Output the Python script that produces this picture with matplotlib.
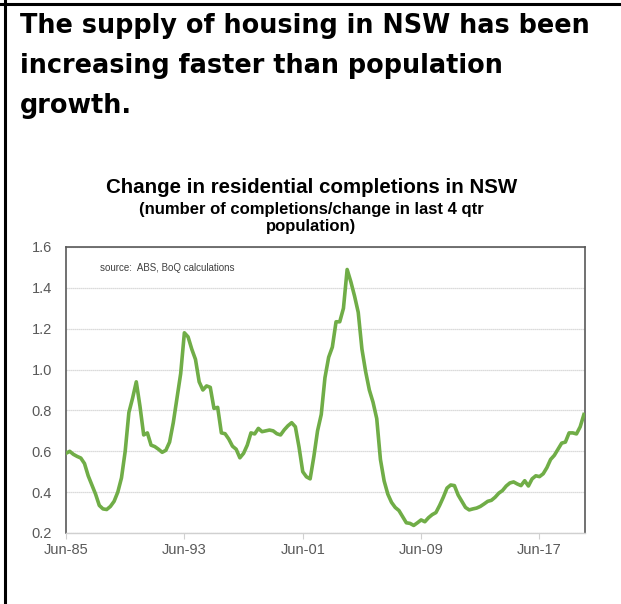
import matplotlib.pyplot as plt
import numpy as np

# quarterly ratio, Jun-85 .. Jun-20
ratio = [
    0.59, 0.60, 0.585, 0.575, 0.567, 0.54, 0.48, 0.435, 0.39, 0.335,
    0.318, 0.315, 0.33, 0.355, 0.40, 0.47, 0.60, 0.79, 0.86, 0.94,
    0.82, 0.68, 0.69, 0.63, 0.623, 0.61, 0.595, 0.605, 0.645, 0.74,
    0.86, 0.98, 1.18, 1.16, 1.10, 1.05, 0.94, 0.90, 0.92, 0.913,
    0.81, 0.815, 0.69, 0.686, 0.66, 0.625, 0.61, 0.568, 0.59, 0.63,
    0.69, 0.685, 0.712, 0.696, 0.70, 0.704, 0.70, 0.686, 0.68, 0.705,
    0.725, 0.74, 0.72, 0.62, 0.50, 0.475, 0.465, 0.574, 0.70, 0.78,
    0.96, 1.06, 1.11, 1.234, 1.234, 1.30, 1.49, 1.43, 1.36, 1.28,
    1.10, 0.99, 0.90, 0.84, 0.76, 0.56, 0.455, 0.39, 0.35, 0.325,
    0.31, 0.28, 0.25, 0.247, 0.237, 0.25, 0.264, 0.255, 0.275, 0.29,
    0.30, 0.335, 0.375, 0.42, 0.435, 0.432, 0.386, 0.355, 0.325, 0.313,
    0.318, 0.322, 0.33, 0.342, 0.355, 0.36, 0.375, 0.395, 0.408, 0.43,
    0.445, 0.45, 0.44, 0.432, 0.456, 0.43, 0.465, 0.48, 0.476, 0.49,
    0.52, 0.56, 0.58, 0.61, 0.64, 0.645, 0.69, 0.69, 0.685, 0.72,
    0.78,
]
tick_quarters = [0, 32, 64, 96, 128]
tick_labels = ["Jun-85", "Jun-93", "Jun-01", "Jun-09", "Jun-17"]
y_ticks = [0.2, 0.4, 0.6, 0.8, 1.0, 1.2, 1.4, 1.6]

headline = ["The supply of housing in NSW has been",
            "increasing faster than population",
            "growth."]
chart_title = "Change in residential completions in NSW"
chart_sub = ["(number of completions/change in last 4 qtr", "population)"]
source = "source:  ABS, BoQ calculations"

GREY = "#595959"
W, H = 621, 604

fig = plt.figure(figsize=(W / 100, H / 100), dpi=100)

# outer frame lines (top and left)
fig.add_artist(plt.Line2D([0, 1], [1 - 4 / H, 1 - 4 / H], color="black", lw=2.2))
fig.add_artist(plt.Line2D([5 / W, 5 / W], [0, 1], color="black", lw=2.2))

for i, line in enumerate(headline):
    fig.text(20 / W, 1 - (33 + 40 * i) / H, line, ha="left", va="baseline",
             fontsize=18.4, fontweight="bold", family="DejaVu Sans")

fig.text(312 / W, 1 - 193 / H, chart_title, ha="center", va="baseline",
         fontsize=14.8, fontweight="bold", family="Liberation Sans")
for i, line in enumerate(chart_sub):
    fig.text(311 / W, 1 - (214 + 17 * i) / H, line, ha="center", va="baseline",
             fontsize=12, fontweight="bold", family="Liberation Sans")

ax = fig.add_axes([66 / W, 1 - 533 / H, (585 - 66) / W, (533 - 247) / H])
q = np.arange(len(ratio))
ax.plot(q, ratio, color="#70ad47", lw=2.6, solid_joinstyle="round", zorder=3)

ax.set_xlim(0, 140.3)
ax.set_ylim(0.2, 1.6)
ax.set_yticks(y_ticks)
ax.set_yticklabels([f"{v:.1f}" for v in y_ticks])
ax.set_xticks(tick_quarters)
ax.set_xticklabels(tick_labels)
ax.grid(axis="y", color="#d0d0d0", lw=0.9, ls=(0, (1, 0.6)))
ax.set_axisbelow(True)

for side in ["left", "top", "right"]:
    ax.spines[side].set_color(GREY)
    ax.spines[side].set_linewidth(1.2)
ax.spines["bottom"].set_color("#d0d0d0")
ax.spines["bottom"].set_linewidth(1.0)

ax.tick_params(axis="y", length=0, pad=10, labelsize=10.5, labelcolor=GREY)
ax.tick_params(axis="x", length=4, color="#d0d0d0", pad=3, labelsize=10.5,
               labelcolor=GREY)
for lab in ax.get_xticklabels() + ax.get_yticklabels():
    lab.set_family("Liberation Sans")

ax.text(34 / 519, 0.925, source, transform=ax.transAxes, fontsize=7,
        color="#404040", family="Liberation Sans", ha="left", va="center")

fig.savefig("out.png", dpi=100)
